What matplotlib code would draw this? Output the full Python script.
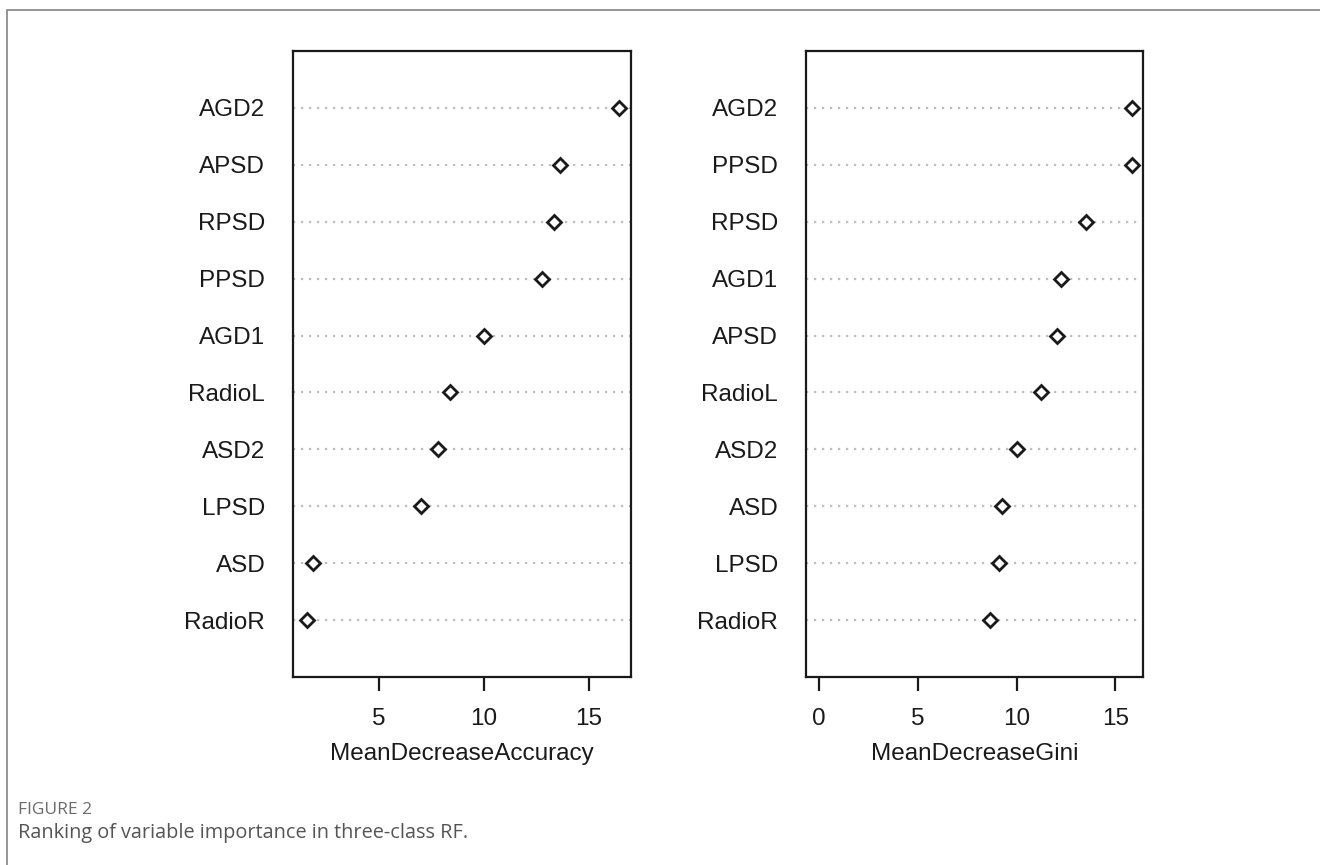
import matplotlib
matplotlib.use("Agg")
import matplotlib.pyplot as plt
from matplotlib.patches import Rectangle
import numpy as np

# ---- data (top row first) ----
acc_vars = ["AGD2", "APSD", "RPSD", "PPSD", "AGD1", "RadioL", "ASD2", "LPSD", "ASD", "RadioR"]
acc_vals = [16.44, 13.63, 13.35, 12.78, 10.02, 8.38, 7.79, 7.00, 1.87, 1.56]

gini_vars = ["AGD2", "PPSD", "RPSD", "AGD1", "APSD", "RadioL", "ASD2", "ASD", "LPSD", "RadioR"]
gini_vals = [15.85, 15.84, 13.52, 12.24, 12.07, 11.24, 10.01, 9.25, 9.11, 8.63]

acc_ticks = [5, 10, 15]
gini_ticks = [0, 5, 10, 15]

plt.rcParams["font.family"] = ["Liberation Sans", "DejaVu Sans"]
INK = "#1a1a1a"

W, H = 1320, 865
fig = plt.figure(figsize=(W / 100, H / 100), dpi=100)


def panel(rect, names, vals, ticks, xlim, xlabel):
    ax = fig.add_axes(rect)
    n = len(names)
    ys = np.arange(n, 0, -1)
    for y in ys:
        ax.axhline(y, color="#bdbdbd", lw=1.6, ls=(0, (1, 2.6)), zorder=1)
    ax.plot(vals, ys, ls="none", marker="D", ms=7.5, mfc="white", mec=INK, mew=2.0, zorder=3)
    ax.set_ylim(0, n + 1)
    ax.set_xlim(*xlim)
    ax.set_yticks(ys)
    ax.set_yticklabels(names, fontsize=17.5, color=INK)
    ax.tick_params(axis="y", length=0, pad=20)
    ax.set_xticks(ticks)
    ax.set_xticklabels([str(t) for t in ticks], fontsize=17.5, color=INK)
    ax.tick_params(axis="x", length=10, width=1.6, color=INK, pad=12)
    ax.set_xlabel(xlabel, fontsize=17.5, color=INK, labelpad=10)
    for s in ax.spines.values():
        s.set_linewidth(1.6)
        s.set_color(INK)
    return ax


def frac(x0, x1, ytop, ybot):
    return [x0 / W, 1 - ybot / H, (x1 - x0) / W, (ybot - ytop) / H]


panel(frac(293, 631, 51, 677), acc_vars, acc_vals, acc_ticks, (0.90, 17.0), "MeanDecreaseAccuracy")
panel(frac(806, 1143, 51, 677), gini_vars, gini_vals, gini_ticks, (-0.66, 16.4), "MeanDecreaseGini")

# outer frame (left and top edges visible)
fig.add_artist(Rectangle((7 / W, -0.1), 1.1, 1 - 10 / H + 0.1, transform=fig.transFigure,
                         fill=False, edgecolor="#8c8c8c", lw=1.3))

fig.text(18 / W, 1 - 810 / H, "FIGURE 2", fontsize=12.5, color="#6a6a6a",
         family=["Open Sans", "DejaVu Sans"], va="center", ha="left")
fig.text(18 / W, 1 - 833 / H, "Ranking of variable importance in three-class RF.", fontsize=14.3,
         color="#555555", family=["Open Sans", "DejaVu Sans"], va="center", ha="left")

fig.savefig("out.png", dpi=100)
